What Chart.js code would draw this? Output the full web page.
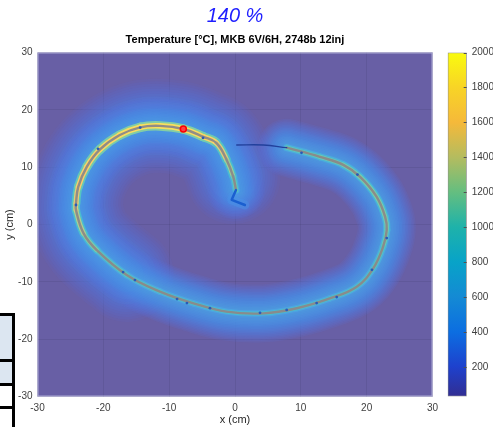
<!DOCTYPE html>
<html>
<head>
<meta charset="utf-8">
<script src="https://cdn.jsdelivr.net/npm/chart.js@4.4.1/dist/chart.umd.min.js"></script>
<style>
  html, body { margin: 0; padding: 0; background: #fff; }
  #wrap { position: relative; width: 493px; height: 427px; overflow: hidden; }
  #main { position: absolute; left: 0; top: 0; }
  #cbar { position: absolute; left: 440px; top: 0; }
  #side { position: absolute; left: -3px; top: 313px; width: 12px; border: 3px solid #000; border-bottom: none; }
  #side div { border-bottom: 3px solid #000; }
</style>
</head>
<body>
<div id="wrap">
  <div id="side">
    <div style="height:43px;background:#dce6f1"></div>
    <div style="height:21px;background:#dce6f1"></div>
    <div style="height:20px;background:#fff"></div>
    <div style="height:30px;background:#fff;border:none"></div>
  </div>
  <canvas id="main" width="470" height="427"></canvas>
  <canvas id="cbar" width="53" height="427"></canvas>
</div>
<script>
// ── axes / ticks
const xTicks = [-30, -20, -10, 0, 10, 20, 30];
const yTicks = [-30, -20, -10, 0, 10, 20, 30];
const cbarTicks = [200, 400, 600, 800, 1000, 1200, 1400, 1600, 1800, 2000];
const cbarRange = [30, 2000];

// ── trajectory (cm)
// cold lead-in (thin dark line)
const startX = [0.26, 4.3, 7.86];
const startY = [13.87, 13.87, 13.4];
// hot arc
const arcX = [7.86, 12.9, 16.45, 19.0, 21.5, 22.8, 23.05, 22.5, 21.0, 18.5, 14.4, 9.4, 4.3, -1.3, -6.3,
  -11.4, -16.45, -21.0, -23.0, -24.15, -24.15, -23.8, -22.5, -20.5, -17.5, -14.4, -11.4, -7.85, -4.8,
  -2.8, -1.26, -0.26, 0.15];
const arcY = [13.4, 11.8, 10.4, 8.3, 4.85, 1.36, -0.96, -3.87, -7.64, -10.85, -12.9, -14.6, -15.5, -15.2, -13.75,
  -11.7, -8.8, -4.45, -1.54, 2.5, 3.7, 6.6, 10.1, 13.1, 15.6, 16.95, 17.2, 16.66, 15.3,
  14.2, 11.25, 8.3, 6.0];
// peak temperature next to each arc point (°C)
const arcTemp = [1050, 1100, 1150, 1200, 1200, 1200, 1150, 1100, 1000, 950, 950, 900, 900, 900, 900,
  950, 1000, 1150, 1300, 1500, 1550, 1650, 1750, 1800, 1850, 1900, 1900, 1900, 1850,
  1700, 1450, 1200, 1000];
// cold tail
const tailX = [0.15, -0.5, 1.5];
const tailY = [6.0, 4.3, 3.4];
// current position
const dotX = [-7.85];
const dotY = [16.66];
// injection marks on the path
const markX = [10.1, 18.6, 23.05, 20.8, 15.45, 12.4, 7.85, 3.8, -3.8, -7.3, -8.8, -15.2, -17.0, -24.15, -20.8, -14.4, -4.86];
const markY = [12.5, 8.7, -2.36, -7.9, -12.65, -13.7, -14.9, -15.4, -14.6, -13.7, -13.0, -9.7, -8.3, 3.4, 13.2, 16.9, 15.1];

// ── parula-ish colormap
const parulaStops = [
  [0.0, 53, 42, 135], [0.1, 30, 65, 205], [0.2, 12, 110, 225], [0.3, 20, 138, 212],
  [0.4, 8, 163, 200], [0.5, 30, 178, 170], [0.6, 100, 190, 128], [0.7, 180, 188, 95],
  [0.8, 245, 185, 58], [0.9, 248, 212, 38], [1.0, 249, 251, 14]
];
function parula(t) {
  t = Math.max(0, Math.min(1, t || 0));
  for (let i = 1; i < parulaStops.length; i++) {
    const a = parulaStops[i - 1], b = parulaStops[i];
    if (t <= b[0]) {
      const f = (t - a[0]) / (b[0] - a[0]);
      return [1, 2, 3].map(k => a[k] + (b[k] - a[k]) * f);
    }
  }
  return parulaStops[parulaStops.length - 1].slice(1);
}
// field is shown semi-transparent over white
function field(t, alpha = 1) {
  const c = parula(t).map(v => Math.round(v * 0.75 + 255 * 0.25));
  return `rgba(${c[0]},${c[1]},${c[2]},${alpha})`;
}

const pts = (xs, ys) => xs.map((x, i) => ({ x, y: ys[i] }));
const arcPts = pts(arcX, arcY);
const hotPts = arcPts.slice(16, 32);
const segT = ctx => {
  const i0 = ctx.p0DataIndex ?? 0;
  const i1 = ctx.p1DataIndex ?? i0;
  return (arcTemp[i0] + arcTemp[i1]) / 2;
};
const segColor = (ctx, k) => field(segT(ctx) / 2000 * k);
const segWidth = (ctx, w0, dw) => w0 + dw * (segT(ctx) - 900) / 1000;

Chart.defaults.font.family = '"Liberation Sans", Arial, sans-serif';
Chart.defaults.font.size = 10;
Chart.defaults.color = '#404040';

const glow = (data, width, color, order, extra = {}) => Object.assign({
  data, showLine: true, pointRadius: 0, borderWidth: width, borderColor: color,
  tension: 0.4, borderCapStyle: 'round', borderJoinStyle: 'round', order, fill: false
}, extra);

// soft halo: many stacked translucent strokes, widest first
function haloLayers(data, wMax, wMin, step, t0, t1, alpha, order0) {
  const out = [];
  const n = Math.round((wMax - wMin) / step);
  for (let k = 0; k <= n; k++) {
    const f = k / n;
    out.push(glow(data, wMax - k * step, field(t0 + (t1 - t0) * f, alpha), order0 - k));
  }
  return out;
}
const halo = [
  ...haloLayers(hotPts, 94, 24, 5, 0.08, 0.26, 0.13, 80),
  ...haloLayers(arcPts, 58, 10, 3, 0.09, 0.3, 0.17, 50)
];

const fieldBg = {
  id: 'fieldBg',
  beforeDraw(chart) {
    const { ctx, chartArea: a } = chart;
    ctx.save();
    ctx.fillStyle = field(0);
    ctx.fillRect(a.left, a.top, a.width, a.height);
    ctx.restore();
  },
  afterDraw(chart) {
    const { ctx, chartArea: a } = chart;
    ctx.save();
    ctx.strokeStyle = 'rgba(190,190,225,0.8)';
    ctx.lineWidth = 1;
    ctx.strokeRect(a.left + 0.5, a.top + 0.5, a.width - 1, a.height - 1);
    ctx.restore();
  }
};

new Chart(document.getElementById('main'), {
  type: 'line',
  data: {
    datasets: [
      { data: pts(dotX, dotY), showLine: false, pointRadius: 3, pointBorderWidth: 1.5, pointBorderColor: '#ff0000',
        pointBackgroundColor: '#ff4040', order: 0 },
      { data: pts(markX, markY), showLine: false, pointRadius: 1.4, pointBorderWidth: 0,
        pointBackgroundColor: '#2a5ab8', order: 1 },
      glow(arcPts, 2.4, 'rgba(140,136,136,0.95)', 2),
      glow(arcPts, 5, '#e0d040', 3, { segment: {
        borderColor: ctx => segColor(ctx, 0.95), borderWidth: ctx => segWidth(ctx, 4, 1.6) } }),
      glow(arcPts, 8, '#40c0b0', 4, { segment: {
        borderColor: ctx => segColor(ctx, 0.62), borderWidth: ctx => segWidth(ctx, 6.5, 3) } }),
      ...halo,
      glow(pts(startX, startY), 1.3, '#22409c', 1),
      glow(pts(tailX, tailY), 2.5, '#1a5fd0', 1, { tension: 0 }),
      glow(pts(tailX, tailY), 9, field(0.2, 0.45), 6, { tension: 0 })
    ]
  },
  options: {
    responsive: false,
    animation: false,
    events: [],
    layout: { padding: { left: 0, right: 37.5, top: 0, bottom: 0 } },
    plugins: {
      legend: { display: false },
      tooltip: { enabled: false },
      title: {
        display: true, text: '140 %', color: '#1e1eff', fullSize: false,
        font: { size: 20, style: 'italic', weight: 'normal' },
        padding: { top: 4, bottom: 0 }
      },
      subtitle: {
        display: true, text: 'Temperature [°C], MKB 6V/6H, 2748b 12inj', color: '#000', fullSize: false,
        font: { size: 11, weight: 'bold' },
        padding: { top: 5.4, bottom: 5.9 }
      }
    },
    scales: {
      x: {
        type: 'linear', min: -30, max: 30,
        afterBuildTicks: s => { s.ticks = xTicks.map(v => ({ value: v })); },
        afterFit: s => { s.height = 30.5; },
        grid: { color: 'rgba(40,40,70,0.12)', drawTicks: false },
        border: { display: false },
        ticks: { padding: 6 },
        title: { display: true, text: 'x (cm)', color: '#262626', font: { size: 11 }, padding: { top: 0, bottom: 0 } }
      },
      y: {
        type: 'linear', min: -30, max: 30,
        afterBuildTicks: s => { s.ticks = yTicks.map(v => ({ value: v })); },
        afterFit: s => { s.width = 37.5; },
        grid: { color: 'rgba(40,40,70,0.12)', drawTicks: false },
        border: { display: false },
        ticks: { padding: 5 },
        title: { display: true, text: 'y (cm)', color: '#262626', font: { size: 11 }, padding: { top: 3.5, bottom: 0 } }
      }
    }
  },
  plugins: [fieldBg]
});

// ── colorbar
const cbarTickMarks = {
  id: 'cbarTickMarks',
  afterDatasetsDraw(chart) {
    const { ctx, chartArea: a, scales: { y } } = chart;
    ctx.save();
    ctx.strokeStyle = '#505050';
    ctx.lineWidth = 1;
    y.ticks.forEach(t => {
      const py = Math.round(y.getPixelForValue(t.value)) + 0.5;
      ctx.beginPath();
      ctx.moveTo(a.right - 3, py);
      ctx.lineTo(a.right, py);
      ctx.stroke();
    });
    ctx.restore();
  }
};

new Chart(document.getElementById('cbar'), {
  type: 'bar',
  data: {
    labels: [''],
    datasets: [{
      data: [cbarRange],
      barPercentage: 1, categoryPercentage: 1,
      borderWidth: 1, borderColor: '#8a8a8a', borderSkipped: false,
      backgroundColor: ctx => {
        const chart = ctx.chart;
        const ys = chart.scales.y;
        if (!chart.chartArea || !ys) return field(0.5);
        const g = chart.ctx.createLinearGradient(0, ys.getPixelForValue(0), 0, ys.getPixelForValue(2000));
        parulaStops.forEach(s => g.addColorStop(s[0], `rgb(${s[1]},${s[2]},${s[3]})`));
        return g;
      }
    }]
  },
  options: {
    responsive: false,
    animation: false,
    events: [],
    layout: { padding: { left: 7.7, right: 0, top: 52.5, bottom: 30.5 } },
    plugins: { legend: { display: false }, tooltip: { enabled: false } },
    scales: {
      x: { display: false },
      y: {
        position: 'right', min: cbarRange[0], max: cbarRange[1],
        afterBuildTicks: s => { s.ticks = cbarTicks.map(v => ({ value: v })); },
        afterFit: s => { s.width = 26.3; },
        grid: { display: false, drawTicks: false, tickLength: 0 },
        border: { display: false },
        ticks: { padding: 5, callback: v => String(v) }
      }
    }
  },
  plugins: [cbarTickMarks]
});
</script>
</body>
</html>
